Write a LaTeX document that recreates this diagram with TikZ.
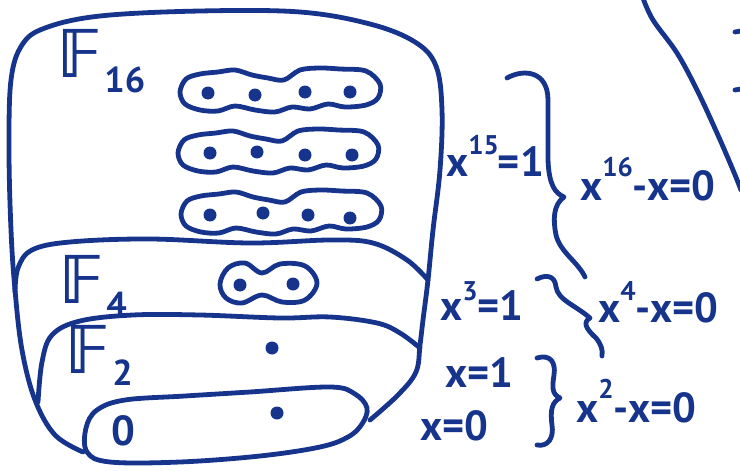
\documentclass[tikz,border=0pt]{standalone}
\usepackage{fontspec}
\setmainfont{PT Sans}
\newfontfamily\dvs{DejaVu Sans}
\definecolor{ink}{RGB}{22,52,140}
\newcommand{\eqf}{\fontsize{42}{42}\selectfont\bfseries}
\newcommand{\supf}{\fontsize{27}{27}\selectfont\bfseries}
\newcommand{\upto}[2]{\raisebox{#1}{\supf #2}}
\newcommand{\bbF}[2]{{\dvs\fontsize{66}{66}\selectfont 𝔽}\kern1pt\raisebox{#1}{\fontsize{36}{36}\selectfont\bfseries #2}}
\tikzset{
  hand/.style={draw=ink, line width=4.8pt, line cap=round, line join=round},
  dot/.style={circle, fill=ink, inner sep=0pt, minimum size=13pt},
  lbl/.style={text=ink, inner sep=0pt, anchor=base west, font=\eqf},
  wavyloop/.pic={\draw[hand] plot[smooth cycle, tension=0.55] coordinates {(0,0) (6,-13) (20,-18) (38,-20) (55,-22) (72,-17) (88,-14) (104,-12) (120,-22) (140,-24) (160,-23) (186,-21) (200,-8) (198,6) (186,13) (165,15) (148,12) (130,17) (112,15) (95,20) (75,18) (55,14) (38,19) (20,18) (5,12)};}
}
\begin{document}
\begin{tikzpicture}[x=1pt,y=-1pt]
\useasboundingbox (0,0) rectangle (740,471);
% outer boundary (F16)
\draw[hand] plot[smooth, tension=0.6] coordinates {(83,452) (55,435) (35,400) (22,350) (15,290) (11,230) (9,150) (11,80) (22,45) (45,28) (100,16) (200,11) (300,12) (370,24) (415,42) (436,66) (442,110) (440,170) (433,230) (428,280) (423,320) (420,345) (416,372) (398,395) (370,420)};
% F4 top
\draw[hand] plot[smooth, tension=0.6] coordinates {(15,292) (18,268) (32,250) (70,242) (150,239) (250,243) (330,240) (373,243) (407,260) (428,280)};
% F2 top
\draw[hand] plot[smooth, tension=0.6] coordinates {(38,402) (42,362) (52,335) (80,321) (133,315) (200,315) (280,318) (330,317) (377,323) (400,333) (420,348)};
% F1 ellipse
\draw[hand] plot[smooth cycle, tension=0.6] coordinates {(87,452) (86,428) (97,410) (125,400) (185,396) (250,392) (330,387) (355,394) (367,408) (362,424) (348,437) (320,447) (260,456) (180,462) (110,462)};
% loops
\pic (r1) at (180,92) {wavyloop};
\pic (r2) at (178,153) {wavyloop};
\pic (r3) at (181,214) {wavyloop};
\draw[hand] plot[smooth cycle, tension=0.6] coordinates {(220,284) (228,268) (245,263) (262,273) (280,264) (305,266) (317,283) (305,300) (282,302) (262,295) (242,303) (226,298)};
% dots
\node[dot] (a1) at (208,93) {};
\node[dot] (a2) at (255,95) {};
\node[dot] (a3) at (305,92) {};
\node[dot] (a4) at (350,92) {};
\node[dot] (b1) at (210,153) {};
\node[dot] (b2) at (257,152) {};
\node[dot] (b3) at (305,155) {};
\node[dot] (b4) at (352,155) {};
\node[dot] (c1) at (210,215) {};
\node[dot] (c2) at (263,213) {};
\node[dot] (c3) at (308,215) {};
\node[dot] (c4) at (350,218) {};
\node[dot] (d1) at (240,285) {};
\node[dot] (d2) at (293,284) {};
\node[dot] (e1) at (272,348) {};
\node[dot] (g1) at (277,413) {};
\node[lbl, anchor=center, font=\fontsize{42}{42}\selectfont\bfseries] (zero) at (123,431) {0};
% field labels
\node[lbl] (f16) at (58,77) {\bbF{-16pt}{16}};
\node[lbl] (f4) at (60,303) {\bbF{-14pt}{4}};
\node[lbl] (f2) at (66,373) {\bbF{-12pt}{2}};
% braces
\draw[hand] (507,78) .. controls (525,68) and (548,72) .. (548,100) -- (548,160) .. controls (549,185) and (555,193) .. (564,197) .. controls (553,205) and (553,220) .. (556,235) .. controls (560,252) and (578,262) .. (585,277);
\draw[hand] (537,279) .. controls (547,274) and (555,276) .. (556,287) .. controls (558,300) and (575,305) .. (590,318) .. controls (583,322) and (585,328) .. (596,338) .. controls (601,344) and (603,350) .. (602,356);
\draw[hand] (537,358) .. controls (550,354) and (556,362) .. (554,375) .. controls (552,388) and (552,394) .. (560,398) .. controls (552,402) and (550,410) .. (552,425) .. controls (554,438) and (548,447) .. (537,445);
% diagonal line and marks at the edge
\draw[hand] plot[smooth, tension=0.6] coordinates {(643,-2) (653,20) (677,53) (697,90) (717,133) (733,170) (741,190)};
\draw[hand] (735,32) -- (741,31);
\draw[hand] (735,90) -- (741,89);
% equations
\node[lbl] (q15) at (446,176) {x\upto{22pt}{15}\kern-1pt=\kern1pt1};
\node[lbl] (q16) at (580,200) {x\upto{24pt}{16}-x=0};
\node[lbl] (q3) at (440,320) {x\upto{20pt}{3}=1};
\node[lbl] (q4) at (598,322) {x\upto{22pt}{4}-x=0};
\node[lbl] (q1) at (445,387) {x=1};
\node[lbl] (q0) at (420,440) {x=0};
\node[lbl] (q2) at (576,422) {x\upto{24pt}{2}-x=0};
\end{tikzpicture}
\end{document}
